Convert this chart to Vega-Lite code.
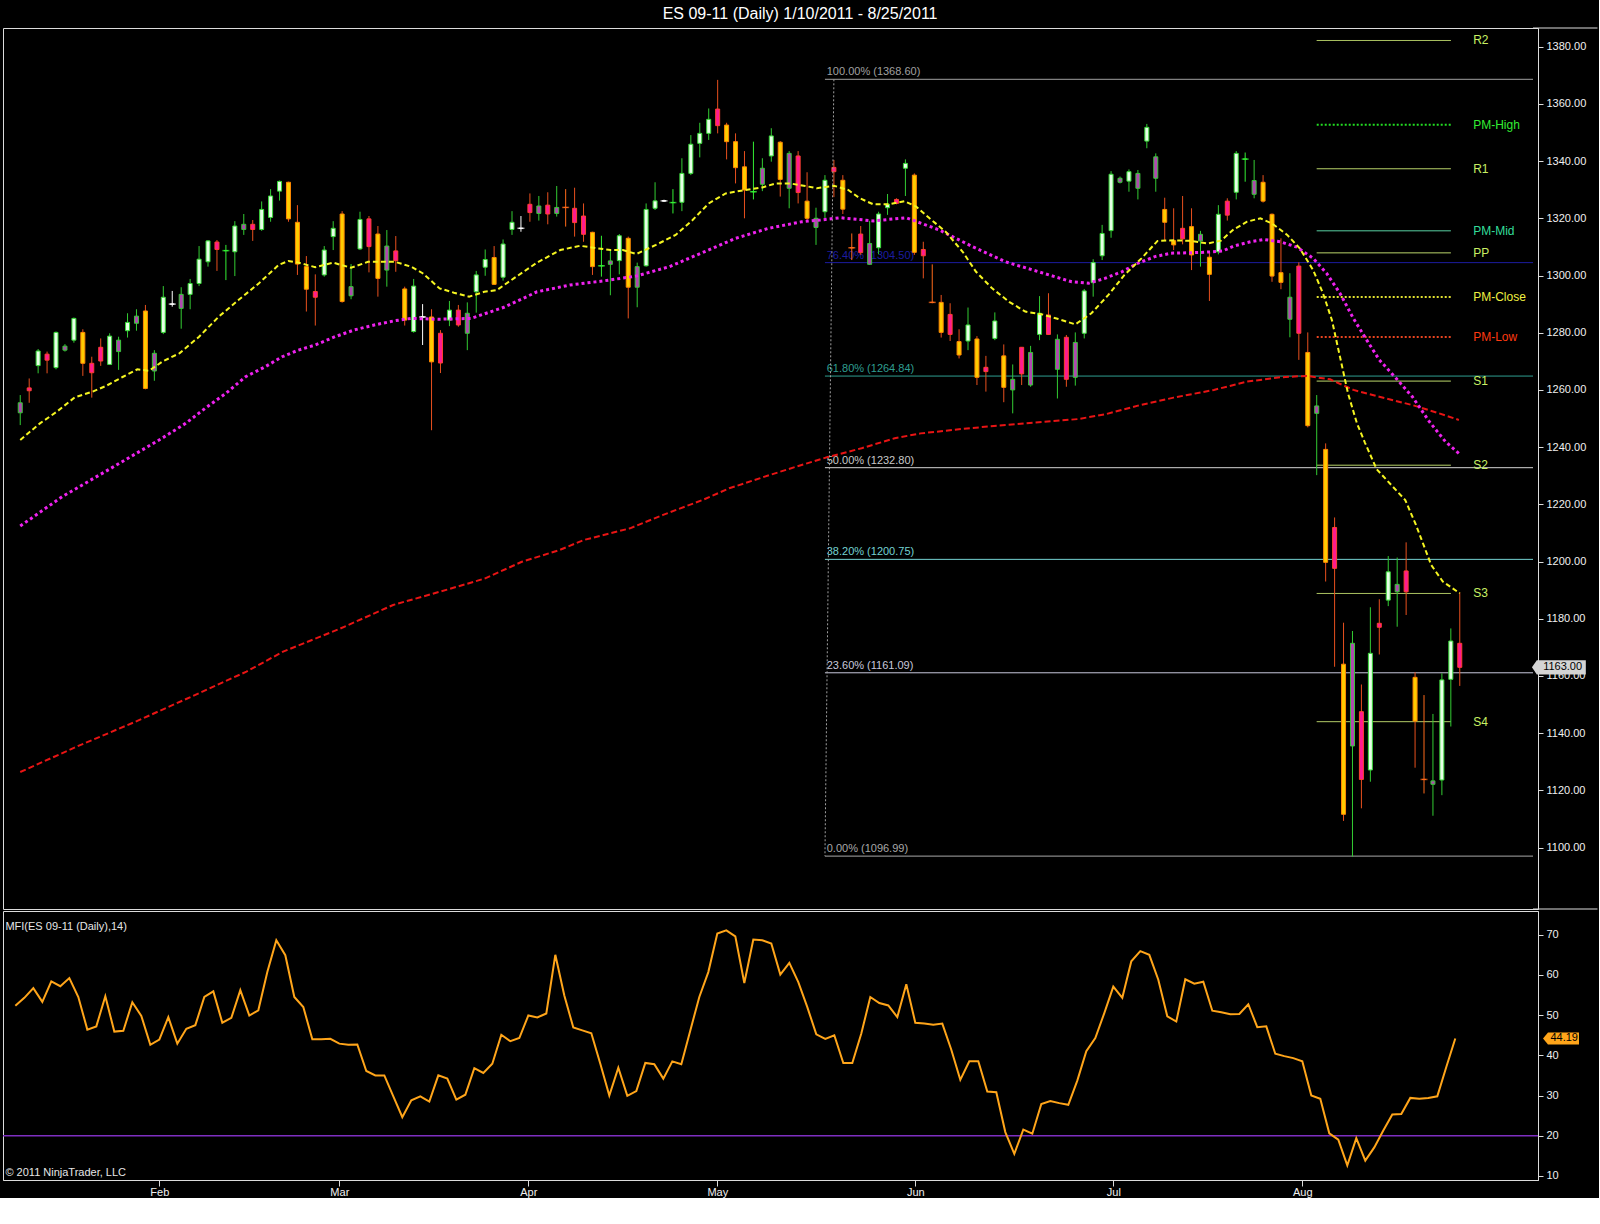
{
  "$schema": "https://vega.github.io/schema/vega-lite/v6.json",
  "background": "#000000",
  "padding": {"left": 1, "top": 6, "right": 0, "bottom": 0},
  "title": {"text": "ES 09-11 (Daily)  1/10/2011 - 8/25/2011", "color": "#ffffff", "fontSize": 16, "fontWeight": "normal", "font": "Liberation Sans", "offset": 5, "anchor": "middle"},
  "datasets": {
    "bars": [
      {"i":0,"o":1252.0,"h":1258.2,"l":1247.7,"c":1255.5,"k":"v"},
      {"i":1,"o":1260.7,"h":1264.0,"l":1255.5,"c":1259.7,"k":"p"},
      {"i":2,"o":1268.5,"h":1274.3,"l":1265.8,"c":1273.6,"k":"u"},
      {"i":3,"o":1272.5,"h":1273.4,"l":1265.8,"c":1270.4,"k":"p"},
      {"i":4,"o":1267.8,"h":1280.4,"l":1267.2,"c":1280.1,"k":"u"},
      {"i":5,"o":1273.9,"h":1276.0,"l":1273.4,"c":1275.3,"k":"v"},
      {"i":6,"o":1277.4,"h":1285.3,"l":1276.5,"c":1285.0,"k":"u"},
      {"i":7,"o":1280.1,"h":1281.2,"l":1264.9,"c":1269.3,"k":"d"},
      {"i":8,"o":1269.3,"h":1271.6,"l":1257.3,"c":1266.0,"k":"p"},
      {"i":9,"o":1274.9,"h":1278.0,"l":1268.4,"c":1270.1,"k":"p"},
      {"i":10,"o":1268.9,"h":1279.8,"l":1268.7,"c":1278.8,"k":"u"},
      {"i":11,"o":1273.4,"h":1278.6,"l":1267.0,"c":1277.4,"k":"v"},
      {"i":12,"o":1280.7,"h":1286.8,"l":1278.3,"c":1283.6,"k":"u"},
      {"i":13,"o":1283.3,"h":1288.2,"l":1280.7,"c":1285.8,"k":"v"},
      {"i":14,"o":1287.6,"h":1289.7,"l":1260.2,"c":1260.5,"k":"d"},
      {"i":15,"o":1266.6,"h":1273.9,"l":1263.2,"c":1272.8,"k":"v"},
      {"i":16,"o":1280.1,"h":1296.3,"l":1279.5,"c":1292.4,"k":"u"},
      {"i":17,"o":1290.0,"h":1294.6,"l":1289.1,"c":1290.0,"k":"w"},
      {"i":18,"o":1288.5,"h":1295.9,"l":1281.4,"c":1293.4,"k":"v"},
      {"i":19,"o":1293.4,"h":1298.8,"l":1288.2,"c":1297.2,"k":"u"},
      {"i":20,"o":1297.2,"h":1310.3,"l":1296.3,"c":1305.7,"k":"u"},
      {"i":21,"o":1304.8,"h":1312.4,"l":1303.1,"c":1312.1,"k":"u"},
      {"i":22,"o":1311.7,"h":1312.4,"l":1301.6,"c":1309.1,"k":"p"},
      {"i":23,"o":1308.7,"h":1310.7,"l":1298.4,"c":1308.7,"k":"g"},
      {"i":24,"o":1308.3,"h":1319.0,"l":1299.8,"c":1317.3,"k":"u"},
      {"i":25,"o":1316.1,"h":1321.5,"l":1314.2,"c":1317.9,"k":"v"},
      {"i":26,"o":1317.9,"h":1319.4,"l":1312.1,"c":1316.1,"k":"p"},
      {"i":27,"o":1316.1,"h":1325.9,"l":1315.6,"c":1323.1,"k":"u"},
      {"i":28,"o":1320.3,"h":1330.2,"l":1318.8,"c":1327.8,"k":"u"},
      {"i":29,"o":1329.5,"h":1333.2,"l":1326.2,"c":1332.9,"k":"u"},
      {"i":30,"o":1332.6,"h":1332.8,"l":1318.8,"c":1319.8,"k":"d"},
      {"i":31,"o":1318.6,"h":1324.6,"l":1300.2,"c":1304.0,"k":"d"},
      {"i":32,"o":1303.1,"h":1306.8,"l":1287.4,"c":1295.2,"k":"d"},
      {"i":33,"o":1294.4,"h":1300.4,"l":1282.5,"c":1292.4,"k":"p"},
      {"i":34,"o":1300.2,"h":1310.3,"l":1299.6,"c":1308.9,"k":"u"},
      {"i":35,"o":1313.6,"h":1319.0,"l":1308.9,"c":1316.5,"k":"u"},
      {"i":36,"o":1321.5,"h":1322.5,"l":1290.5,"c":1290.9,"k":"d"},
      {"i":37,"o":1292.9,"h":1304.0,"l":1291.7,"c":1296.1,"k":"v"},
      {"i":38,"o":1309.3,"h":1322.3,"l":1308.9,"c":1319.6,"k":"u"},
      {"i":39,"o":1319.8,"h":1320.8,"l":1301.1,"c":1310.1,"k":"p"},
      {"i":40,"o":1314.5,"h":1317.3,"l":1292.6,"c":1299.0,"k":"d"},
      {"i":41,"o":1301.9,"h":1315.9,"l":1296.1,"c":1310.3,"k":"v"},
      {"i":42,"o":1308.6,"h":1313.8,"l":1301.3,"c":1305.2,"k":"p"},
      {"i":43,"o":1295.3,"h":1296.1,"l":1282.5,"c":1284.4,"k":"d"},
      {"i":44,"o":1280.4,"h":1298.8,"l":1280.0,"c":1296.3,"k":"u"},
      {"i":45,"o":1285.5,"h":1290.0,"l":1275.7,"c":1285.5,"k":"w"},
      {"i":46,"o":1285.5,"h":1288.2,"l":1245.9,"c":1269.8,"k":"d"},
      {"i":47,"o":1279.8,"h":1280.9,"l":1265.9,"c":1269.4,"k":"p"},
      {"i":48,"o":1284.4,"h":1291.1,"l":1282.3,"c":1287.9,"k":"u"},
      {"i":49,"o":1287.9,"h":1289.7,"l":1282.1,"c":1282.7,"k":"p"},
      {"i":50,"o":1279.8,"h":1290.6,"l":1273.9,"c":1286.8,"k":"v"},
      {"i":51,"o":1294.3,"h":1301.6,"l":1287.0,"c":1300.2,"k":"u"},
      {"i":52,"o":1302.9,"h":1309.1,"l":1299.9,"c":1305.6,"k":"u"},
      {"i":53,"o":1306.3,"h":1310.3,"l":1296.7,"c":1296.9,"k":"d"},
      {"i":54,"o":1299.4,"h":1312.6,"l":1298.2,"c":1311.0,"k":"u"},
      {"i":55,"o":1316.1,"h":1322.5,"l":1314.2,"c":1318.6,"k":"u"},
      {"i":56,"o":1316.5,"h":1320.8,"l":1315.3,"c":1316.5,"k":"w"},
      {"i":57,"o":1324.9,"h":1328.7,"l":1318.8,"c":1322.0,"k":"p"},
      {"i":58,"o":1321.7,"h":1327.8,"l":1319.2,"c":1324.3,"k":"v"},
      {"i":59,"o":1324.6,"h":1329.1,"l":1317.9,"c":1321.5,"k":"p"},
      {"i":60,"o":1321.7,"h":1331.3,"l":1320.6,"c":1323.8,"k":"v"},
      {"i":61,"o":1323.8,"h":1330.2,"l":1317.1,"c":1323.8,"k":"o"},
      {"i":62,"o":1323.5,"h":1330.7,"l":1313.6,"c":1318.5,"k":"p"},
      {"i":63,"o":1320.8,"h":1325.2,"l":1311.8,"c":1314.4,"k":"p"},
      {"i":64,"o":1315.1,"h":1315.3,"l":1300.2,"c":1303.1,"k":"d"},
      {"i":65,"o":1303.4,"h":1313.9,"l":1299.6,"c":1303.4,"k":"g"},
      {"i":66,"o":1303.9,"h":1308.9,"l":1293.1,"c":1305.1,"k":"v"},
      {"i":67,"o":1305.2,"h":1314.5,"l":1300.4,"c":1313.9,"k":"u"},
      {"i":68,"o":1313.0,"h":1313.6,"l":1285.0,"c":1295.9,"k":"d"},
      {"i":69,"o":1295.9,"h":1304.5,"l":1288.9,"c":1303.1,"k":"v"},
      {"i":70,"o":1303.4,"h":1325.2,"l":1303.1,"c":1323.1,"k":"u"},
      {"i":71,"o":1323.5,"h":1332.6,"l":1322.9,"c":1326.1,"k":"u"},
      {"i":72,"o":1326.1,"h":1326.5,"l":1325.7,"c":1326.1,"k":"w"},
      {"i":73,"o":1325.5,"h":1330.2,"l":1321.7,"c":1325.5,"k":"g"},
      {"i":74,"o":1325.6,"h":1341.0,"l":1322.5,"c":1335.7,"k":"u"},
      {"i":75,"o":1335.7,"h":1349.1,"l":1335.1,"c":1345.9,"k":"u"},
      {"i":76,"o":1346.2,"h":1353.4,"l":1341.3,"c":1349.7,"k":"u"},
      {"i":77,"o":1349.7,"h":1358.4,"l":1347.4,"c":1354.6,"k":"u"},
      {"i":78,"o":1358.2,"h":1368.4,"l":1349.7,"c":1352.4,"k":"p"},
      {"i":79,"o":1352.6,"h":1353.4,"l":1340.6,"c":1346.8,"k":"d"},
      {"i":80,"o":1346.8,"h":1349.7,"l":1332.2,"c":1337.7,"k":"d"},
      {"i":81,"o":1338.0,"h":1343.5,"l":1320.0,"c":1329.9,"k":"d"},
      {"i":82,"o":1329.3,"h":1346.8,"l":1326.6,"c":1329.3,"k":"g"},
      {"i":83,"o":1331.9,"h":1341.0,"l":1329.5,"c":1337.5,"k":"v"},
      {"i":84,"o":1341.8,"h":1351.5,"l":1339.8,"c":1348.8,"k":"u"},
      {"i":85,"o":1346.6,"h":1347.0,"l":1327.6,"c":1333.6,"k":"d"},
      {"i":86,"o":1330.5,"h":1343.5,"l":1323.5,"c":1342.7,"k":"v"},
      {"i":87,"o":1341.8,"h":1343.5,"l":1325.2,"c":1329.0,"k":"p"},
      {"i":88,"o":1326.0,"h":1336.1,"l":1319.4,"c":1320.0,"k":"d"},
      {"i":89,"o":1316.8,"h":1323.7,"l":1310.7,"c":1320.0,"k":"v"},
      {"i":90,"o":1322.3,"h":1335.1,"l":1320.0,"c":1333.3,"k":"u"},
      {"i":91,"o":1337.8,"h":1340.4,"l":1327.4,"c":1336.3,"k":"p"},
      {"i":92,"o":1333.3,"h":1335.1,"l":1321.5,"c":1323.2,"k":"d"},
      {"i":93,"o":1309.7,"h":1314.7,"l":1305.4,"c":1309.7,"k":"o"},
      {"i":94,"o":1314.5,"h":1317.3,"l":1307.2,"c":1308.0,"k":"p"},
      {"i":95,"o":1303.9,"h":1319.1,"l":1303.7,"c":1311.2,"k":"v"},
      {"i":96,"o":1309.7,"h":1322.3,"l":1307.4,"c":1321.5,"k":"u"},
      {"i":97,"o":1323.7,"h":1328.5,"l":1321.2,"c":1324.9,"k":"u"},
      {"i":98,"o":1326.6,"h":1327.0,"l":1324.9,"c":1325.2,"k":"p"},
      {"i":99,"o":1337.5,"h":1340.6,"l":1327.8,"c":1339.2,"k":"u"},
      {"i":100,"o":1335.1,"h":1335.7,"l":1307.2,"c":1308.1,"k":"d"},
      {"i":101,"o":1309.1,"h":1311.8,"l":1299.0,"c":1306.9,"k":"p"},
      {"i":102,"o":1290.6,"h":1303.9,"l":1290.3,"c":1290.6,"k":"o"},
      {"i":103,"o":1290.6,"h":1293.2,"l":1278.3,"c":1280.1,"k":"d"},
      {"i":104,"o":1286.4,"h":1290.3,"l":1277.1,"c":1279.4,"k":"p"},
      {"i":105,"o":1276.9,"h":1281.2,"l":1271.0,"c":1272.2,"k":"d"},
      {"i":106,"o":1277.1,"h":1288.8,"l":1273.9,"c":1282.7,"k":"u"},
      {"i":107,"o":1277.8,"h":1278.8,"l":1261.7,"c":1264.4,"k":"d"},
      {"i":108,"o":1267.9,"h":1271.9,"l":1259.4,"c":1266.4,"k":"p"},
      {"i":109,"o":1278.0,"h":1287.1,"l":1277.4,"c":1284.1,"k":"u"},
      {"i":110,"o":1271.9,"h":1275.9,"l":1255.7,"c":1260.9,"k":"d"},
      {"i":111,"o":1260.0,"h":1268.9,"l":1251.8,"c":1263.7,"k":"v"},
      {"i":112,"o":1274.9,"h":1274.9,"l":1261.7,"c":1265.6,"k":"p"},
      {"i":113,"o":1261.7,"h":1275.4,"l":1261.1,"c":1273.1,"k":"v"},
      {"i":114,"o":1279.4,"h":1292.8,"l":1277.4,"c":1286.8,"k":"u"},
      {"i":115,"o":1286.2,"h":1293.8,"l":1279.2,"c":1279.4,"k":"p"},
      {"i":116,"o":1267.2,"h":1279.4,"l":1257.0,"c":1277.7,"k":"v"},
      {"i":117,"o":1278.4,"h":1279.2,"l":1261.1,"c":1263.7,"k":"p"},
      {"i":118,"o":1264.4,"h":1280.1,"l":1261.5,"c":1276.6,"k":"v"},
      {"i":119,"o":1279.8,"h":1295.3,"l":1278.0,"c":1294.6,"k":"u"},
      {"i":120,"o":1297.5,"h":1305.7,"l":1292.6,"c":1304.5,"k":"u"},
      {"i":121,"o":1306.9,"h":1317.7,"l":1305.4,"c":1314.7,"k":"u"},
      {"i":122,"o":1315.7,"h":1336.5,"l":1313.2,"c":1335.4,"k":"u"},
      {"i":123,"o":1332.6,"h":1334.6,"l":1332.2,"c":1334.0,"k":"v"},
      {"i":124,"o":1333.0,"h":1337.1,"l":1329.3,"c":1336.3,"k":"u"},
      {"i":125,"o":1330.5,"h":1336.9,"l":1326.6,"c":1335.7,"k":"v"},
      {"i":126,"o":1347.0,"h":1353.0,"l":1344.5,"c":1351.8,"k":"u"},
      {"i":127,"o":1334.0,"h":1342.7,"l":1329.3,"c":1341.5,"k":"v"},
      {"i":128,"o":1323.1,"h":1327.2,"l":1312.4,"c":1318.6,"k":"d"},
      {"i":129,"o":1312.2,"h":1323.5,"l":1308.9,"c":1310.7,"k":"d"},
      {"i":130,"o":1316.5,"h":1327.8,"l":1310.9,"c":1312.8,"k":"p"},
      {"i":131,"o":1317.1,"h":1323.5,"l":1301.9,"c":1307.2,"k":"d"},
      {"i":132,"o":1312.1,"h":1315.6,"l":1303.1,"c":1314.4,"k":"v"},
      {"i":133,"o":1306.4,"h":1308.0,"l":1291.1,"c":1300.4,"k":"d"},
      {"i":134,"o":1308.3,"h":1324.6,"l":1307.4,"c":1321.4,"k":"u"},
      {"i":135,"o":1326.0,"h":1327.0,"l":1319.2,"c":1321.1,"k":"p"},
      {"i":136,"o":1329.1,"h":1343.5,"l":1326.6,"c":1342.7,"k":"u"},
      {"i":137,"o":1340.7,"h":1343.0,"l":1332.8,"c":1340.7,"k":"g"},
      {"i":138,"o":1328.4,"h":1340.4,"l":1327.0,"c":1333.2,"k":"v"},
      {"i":139,"o":1332.6,"h":1335.1,"l":1325.5,"c":1326.0,"k":"d"},
      {"i":140,"o":1321.4,"h":1321.7,"l":1297.8,"c":1299.8,"k":"d"},
      {"i":141,"o":1301.0,"h":1313.0,"l":1295.2,"c":1297.6,"k":"d"},
      {"i":142,"o":1284.7,"h":1300.8,"l":1278.4,"c":1292.4,"k":"v"},
      {"i":143,"o":1303.3,"h":1304.6,"l":1270.5,"c":1279.8,"k":"p"},
      {"i":144,"o":1273.1,"h":1280.1,"l":1246.9,"c":1247.5,"k":"d"},
      {"i":145,"o":1251.8,"h":1258.2,"l":1230.2,"c":1254.4,"k":"v"},
      {"i":146,"o":1239.2,"h":1241.3,"l":1193.0,"c":1199.7,"k":"d"},
      {"i":147,"o":1211.9,"h":1215.4,"l":1163.2,"c":1197.6,"k":"p"},
      {"i":148,"o":1164.1,"h":1178.6,"l":1109.3,"c":1111.6,"k":"d"},
      {"i":149,"o":1135.5,"h":1175.7,"l":1096.8,"c":1171.4,"k":"v"},
      {"i":150,"o":1147.5,"h":1157.0,"l":1113.7,"c":1123.8,"k":"p"},
      {"i":151,"o":1127.1,"h":1184.0,"l":1123.0,"c":1167.9,"k":"u"},
      {"i":152,"o":1178.4,"h":1186.8,"l":1167.5,"c":1177.0,"k":"p"},
      {"i":153,"o":1186.5,"h":1201.9,"l":1184.4,"c":1196.4,"k":"u"},
      {"i":154,"o":1189.4,"h":1201.4,"l":1177.2,"c":1192.0,"k":"v"},
      {"i":155,"o":1196.7,"h":1206.7,"l":1181.3,"c":1189.4,"k":"p"},
      {"i":156,"o":1159.5,"h":1161.3,"l":1127.9,"c":1144.2,"k":"d"},
      {"i":157,"o":1123.8,"h":1153.3,"l":1118.9,"c":1123.8,"k":"o"},
      {"i":158,"o":1122.1,"h":1146.7,"l":1111.1,"c":1123.3,"k":"v"},
      {"i":159,"o":1123.6,"h":1160.9,"l":1118.3,"c":1158.6,"k":"u"},
      {"i":160,"o":1158.8,"h":1176.6,"l":1142.3,"c":1172.2,"k":"u"},
      {"i":161,"o":1171.4,"h":1189.2,"l":1156.5,"c":1163.0,"k":"p"}
    ],
    "ema": [
      {"i":0,"v":1242.5},{"i":2.2,"v":1248.3},{"i":4.1,"v":1252.4},{"i":6.1,"v":1257.4},{"i":8.1,"v":1259.4},
      {"i":9.6,"v":1261.4},{"i":11.5,"v":1264.6},{"i":13.1,"v":1267.2},{"i":14.4,"v":1266.7},{"i":15.9,"v":1269.9},
      {"i":17.8,"v":1272.8},{"i":20,"v":1278.6},{"i":22.2,"v":1285.6},{"i":24.4,"v":1291.4},{"i":26.7,"v":1297.3},
      {"i":28.9,"v":1303.7},{"i":30,"v":1305.1},{"i":31.1,"v":1304.5},{"i":33,"v":1302.9},{"i":35,"v":1304.5},
      {"i":37,"v":1302.7},{"i":38.9,"v":1304.8},{"i":41.9,"v":1304.8},{"i":43.7,"v":1303.1},{"i":45,"v":1300.8},
      {"i":46.9,"v":1295.5},{"i":48.5,"v":1294.0},{"i":50.2,"v":1292.6},{"i":51.9,"v":1294.3},{"i":53.3,"v":1294.9},
      {"i":55.2,"v":1299.0},{"i":57.8,"v":1304.5},{"i":60.4,"v":1308.9},{"i":62.6,"v":1310.4},{"i":63.9,"v":1309.8},
      {"i":66,"v":1308.9},{"i":67.4,"v":1308.9},{"i":68.9,"v":1307.5},{"i":71.1,"v":1310.7},{"i":73.3,"v":1314.2},
      {"i":75.2,"v":1319.4},{"i":77,"v":1325.2},{"i":78.9,"v":1328.7},{"i":81.1,"v":1329.9},{"i":83,"v":1330.8},
      {"i":84.5,"v":1332.2},{"i":86.1,"v":1332.2},{"i":87.8,"v":1331.3},{"i":89.1,"v":1330.5},{"i":91,"v":1331.4},
      {"i":92.6,"v":1329.9},{"i":93.9,"v":1327.0},{"i":95.4,"v":1324.9},{"i":97.2,"v":1324.9},{"i":98.9,"v":1326.0},
      {"i":100.2,"v":1324.1},{"i":101.7,"v":1320.0},{"i":103.5,"v":1315.3},{"i":105.4,"v":1308.3},{"i":106.9,"v":1301.3},
      {"i":108.7,"v":1295.5},{"i":110.6,"v":1290.8},{"i":112.4,"v":1287.4},{"i":114.3,"v":1286.4},{"i":116.1,"v":1284.8},
      {"i":118,"v":1282.9},{"i":119.8,"v":1286.8},{"i":121.7,"v":1293.2},{"i":123.5,"v":1300.2},{"i":125.4,"v":1306.0},
      {"i":127.2,"v":1312.1},{"i":129.1,"v":1312.3},{"i":131,"v":1312.1},{"i":132.8,"v":1311.2},{"i":134.3,"v":1312.2},
      {"i":135.7,"v":1316.1},{"i":137.2,"v":1318.8},{"i":138.7,"v":1320.0},{"i":140,"v":1318.2},{"i":141.7,"v":1314.2},
      {"i":143.1,"v":1309.5},{"i":144.6,"v":1301.9},{"i":145.7,"v":1293.8},{"i":146.7,"v":1284.4},{"i":147.6,"v":1271.6},
      {"i":148.5,"v":1258.8},{"i":149.5,"v":1248.3},{"i":150.4,"v":1241.5},{"i":151.7,"v":1232.3},{"i":153.5,"v":1226.2},
      {"i":154.9,"v":1221.5},{"i":156.1,"v":1212.8},{"i":157.8,"v":1198.8},{"i":159.1,"v":1193.0},{"i":161,"v":1188.9}
    ],
    "sma50": [
      {"i":0,"v":1212.4},{"i":4.7,"v":1222.7},{"i":9.6,"v":1231.6},{"i":15.7,"v":1242.8},{"i":18.5,"v":1248.3},
      {"i":20.7,"v":1253.6},{"i":23,"v":1258.8},{"i":25.2,"v":1264.6},{"i":27.4,"v":1268.1},{"i":29.3,"v":1271.6},
      {"i":31.1,"v":1273.9},{"i":33,"v":1275.7},{"i":35.2,"v":1278.6},{"i":37.4,"v":1281.0},{"i":39.6,"v":1282.7},
      {"i":41.9,"v":1284.2},{"i":43.7,"v":1285.0},{"i":46.7,"v":1284.7},{"i":50.4,"v":1285.0},{"i":54.1,"v":1288.9},
      {"i":57.8,"v":1294.3},{"i":61.5,"v":1296.7},{"i":65.2,"v":1298.1},{"i":68.9,"v":1299.8},{"i":72.6,"v":1303.1},
      {"i":76.3,"v":1308.0},{"i":80,"v":1313.0},{"i":83.7,"v":1316.5},{"i":87.4,"v":1318.8},{"i":89.5,"v":1319.4},
      {"i":91.7,"v":1320.2},{"i":95.4,"v":1319.1},{"i":99.1,"v":1320.2},{"i":102.8,"v":1315.9},{"i":106.5,"v":1310.1},
      {"i":110.2,"v":1304.8},{"i":113.9,"v":1301.3},{"i":117.6,"v":1297.8},{"i":119.5,"v":1297.3},{"i":121.3,"v":1299.0},
      {"i":123.2,"v":1301.3},{"i":125,"v":1304.3},{"i":126.9,"v":1306.6},{"i":128.7,"v":1307.8},{"i":132.4,"v":1308.1},
      {"i":134.5,"v":1308.6},{"i":135.7,"v":1310.3},{"i":137.6,"v":1311.8},{"i":139.1,"v":1312.6},{"i":140.9,"v":1311.8},
      {"i":142.8,"v":1309.9},{"i":144.6,"v":1306.0},{"i":146.1,"v":1300.8},{"i":147.6,"v":1293.8},{"i":149.1,"v":1285.0},
      {"i":150.6,"v":1277.4},{"i":152,"v":1270.5},{"i":153.9,"v":1264.0},{"i":155.7,"v":1257.6},{"i":157.6,"v":1248.9},
      {"i":159.4,"v":1241.9},{"i":160.9,"v":1237.8}
    ],
    "sma200": [
      {"i":0,"v":1126.4},{"i":6.7,"v":1135.8},{"i":12.9,"v":1144.0},{"i":19.1,"v":1152.7},{"i":25.3,"v":1161.5},
      {"i":29.4,"v":1168.5},{"i":35.6,"v":1176.3},{"i":41.7,"v":1184.8},{"i":47.9,"v":1190.3},{"i":52,"v":1194.1},
      {"i":56.1,"v":1199.9},{"i":60.3,"v":1204.0},{"i":63,"v":1207.5},{"i":68.2,"v":1211.6},{"i":71.9,"v":1216.3},
      {"i":76.3,"v":1221.5},{"i":79.3,"v":1225.6},{"i":83,"v":1229.4},{"i":86.7,"v":1233.1},{"i":90.4,"v":1236.6},
      {"i":94.1,"v":1239.6},{"i":97.8,"v":1243.1},{"i":100.7,"v":1244.8},{"i":105.2,"v":1246.3},{"i":108.9,"v":1247.4},
      {"i":113.3,"v":1248.5},{"i":118.3,"v":1249.8},{"i":121.4,"v":1251.5},{"i":125,"v":1254.5},{"i":129,"v":1257.3},
      {"i":133.5,"v":1260.0},{"i":137.2,"v":1262.9},{"i":140.9,"v":1264.4},{"i":143.9,"v":1264.9},{"i":146.5,"v":1263.7},
      {"i":149.1,"v":1260.0},{"i":152,"v":1257.6},{"i":155.7,"v":1254.7},{"i":158.5,"v":1252.0},{"i":160.9,"v":1249.5}
    ],
    "mfi": [
      {"i":0,"v":52.3},{"i":1,"v":54.3},{"i":2,"v":56.7},{"i":3,"v":53.3},{"i":4,"v":58.4},{"i":5,"v":57.2},{"i":6,"v":59.2},{"i":7,"v":54.5},{"i":8,"v":46.4},{"i":9,"v":47.2},
      {"i":10,"v":54.7},{"i":11,"v":45.9},{"i":12,"v":46.1},{"i":13,"v":53.2},{"i":14,"v":49.8},{"i":15,"v":42.6},{"i":16,"v":43.9},{"i":17,"v":49.5},{"i":18,"v":42.9},{"i":19,"v":46.6},
      {"i":20,"v":47.5},{"i":21,"v":54.5},{"i":22,"v":55.9},{"i":23,"v":48.1},{"i":24,"v":49.3},{"i":25,"v":56.2},{"i":26,"v":49.9},{"i":27,"v":51.2},{"i":28,"v":60.7},{"i":29,"v":68.6},
      {"i":30,"v":64.9},{"i":31,"v":54.5},{"i":32,"v":52.0},{"i":33,"v":44.0},{"i":34,"v":44.0},{"i":35,"v":44.1},{"i":36,"v":42.9},{"i":37,"v":42.6},{"i":38,"v":42.7},{"i":39,"v":36.1},
      {"i":40,"v":35.0},{"i":41,"v":35.0},{"i":42,"v":29.8},{"i":43,"v":24.6},{"i":44,"v":28.8},{"i":45,"v":29.8},{"i":46,"v":28.5},{"i":47,"v":35.0},{"i":48,"v":34.2},{"i":49,"v":29.0},
      {"i":50,"v":30.2},{"i":51,"v":36.8},{"i":52,"v":35.6},{"i":53,"v":37.9},{"i":54,"v":45.1},{"i":55,"v":43.5},{"i":56,"v":44.3},{"i":57,"v":49.9},{"i":58,"v":49.4},{"i":59,"v":50.4},
      {"i":60,"v":65.0},{"i":61,"v":54.9},{"i":62,"v":46.9},{"i":63,"v":46.2},{"i":64,"v":45.5},{"i":65,"v":37.9},{"i":66,"v":30.0},{"i":67,"v":36.9},{"i":68,"v":29.9},{"i":69,"v":31.1},
      {"i":70,"v":38.1},{"i":71,"v":37.8},{"i":72,"v":34.2},{"i":73,"v":38.5},{"i":74,"v":37.8},{"i":75,"v":46.2},{"i":76,"v":54.5},{"i":77,"v":60.7},{"i":78,"v":70.3},{"i":79,"v":71.1},
      {"i":80,"v":69.6},{"i":81,"v":58.0},{"i":82,"v":68.8},{"i":83,"v":68.6},{"i":84,"v":67.8},{"i":85,"v":60.1},{"i":86,"v":63.0},{"i":87,"v":58.2},{"i":88,"v":52.0},{"i":89,"v":45.2},
      {"i":90,"v":44.1},{"i":91,"v":45.0},{"i":92,"v":38.1},{"i":93,"v":38.1},{"i":94,"v":45.4},{"i":95,"v":54.5},{"i":96,"v":53.0},{"i":97,"v":52.4},{"i":98,"v":49.5},{"i":99,"v":57.7},
      {"i":100,"v":48.1},{"i":101,"v":47.9},{"i":102,"v":47.6},{"i":103,"v":47.9},{"i":104,"v":41.4},{"i":105,"v":33.9},{"i":106,"v":38.5},{"i":107,"v":38.5},{"i":108,"v":31.0},{"i":109,"v":30.8},
      {"i":110,"v":20.9},{"i":111,"v":15.5},{"i":112,"v":21.5},{"i":113,"v":20.5},{"i":114,"v":27.9},{"i":115,"v":28.6},{"i":116,"v":28.1},{"i":117,"v":27.7},{"i":118,"v":33.7},{"i":119,"v":41.0},
      {"i":120,"v":44.3},{"i":121,"v":50.5},{"i":122,"v":57.1},{"i":123,"v":54.3},{"i":124,"v":63.4},{"i":125,"v":65.9},{"i":126,"v":65.0},{"i":127,"v":58.8},{"i":128,"v":49.7},{"i":129,"v":48.4},
      {"i":130,"v":58.9},{"i":131,"v":57.8},{"i":132,"v":58.3},{"i":133,"v":51.1},{"i":134,"v":50.7},{"i":135,"v":50.2},{"i":136,"v":50.3},{"i":137,"v":52.7},{"i":138,"v":47.0},{"i":139,"v":47.2},
      {"i":140,"v":40.4},{"i":141,"v":39.8},{"i":142,"v":39.3},{"i":143,"v":38.5},{"i":144,"v":30.0},{"i":145,"v":29.2},{"i":146,"v":20.6},{"i":147,"v":19.0},{"i":148,"v":12.6},{"i":149,"v":19.4},
      {"i":150,"v":13.8},{"i":151,"v":17.1},{"i":152,"v":21.3},{"i":153,"v":25.3},{"i":154,"v":25.4},{"i":155,"v":29.4},{"i":156,"v":29.2},{"i":157,"v":29.4},{"i":158,"v":29.8},{"i":159,"v":37.1},
      {"i":160,"v":44.19}
    ],
    "fib": [
      {"lvl":"100.0","p":1368.60,"t":"100.00% (1368.60)"},
      {"lvl":"76.4","p":1304.50,"t":"76.40% (1304.50)"},
      {"lvl":"61.8","p":1264.84,"t":"61.80% (1264.84)"},
      {"lvl":"50.0","p":1232.80,"t":"50.00% (1232.80)"},
      {"lvl":"38.2","p":1200.75,"t":"38.20% (1200.75)"},
      {"lvl":"23.6","p":1161.09,"t":"23.60% (1161.09)"},
      {"lvl":"0.0","p":1096.99,"t":"0.00% (1096.99)"}
    ],
    "fibline": [{"a":91,"pa":1368.60,"b":90,"pb":1096.99}],
    "pivots": [
      {"n":"R2","p":1382.17,"g":"lvl"},
      {"n":"PM-High","p":1352.75,"g":"ext"},
      {"n":"R1","p":1337.33,"g":"lvl"},
      {"n":"PM-Mid","p":1315.63,"g":"lvl"},
      {"n":"PP","p":1307.92,"g":"lvl"},
      {"n":"PM-Close","p":1292.50,"g":"ext"},
      {"n":"PM-Low","p":1278.50,"g":"ext"},
      {"n":"S1","p":1263.08,"g":"lvl"},
      {"n":"S2","p":1233.67,"g":"lvl"},
      {"n":"S3","p":1188.83,"g":"lvl"},
      {"n":"S4","p":1144.00,"g":"lvl"}
    ],
    "mfilevels": [{"lvl":20}],
    "edges": [{"e":1}],
    "notes": [{"t":"MFI(ES 09-11 (Daily),14)","w":"name"},{"t":"© 2011 NinjaTrader, LLC","w":"copy"}]
  },
  "spacing": 0,
  "vconcat": [
    {
      "width": 1535,
      "height": 881,
      "layer": [
        {
          "data": {"name": "fib"},
          "mark": {"type": "rule", "strokeWidth": 1},
          "encoding": {
            "x": {"datum": 90, "type": "quantitative", "scale": {"domain": [-1.37, 169.19], "nice": false, "zero": false}, "axis": null},
            "x2": {"datum": 169.19},
            "y": {"field": "p", "type": "quantitative", "scale": {"domain": [1078.5, 1386.54], "nice": false, "zero": false},
              "axis": {"orient": "right", "values": [1100,1120,1140,1160,1180,1200,1220,1240,1260,1280,1300,1320,1340,1360,1380], "format": ".2f", "tickSize": 5, "labelPadding": 3, "title": null}},
            "color": {"field": "lvl", "type": "nominal", "legend": null,
              "scale": {"domain": ["100.0","76.4","61.8","50.0","38.2","23.6","0.0"], "range": ["#a0a0a0","#1c1ca0","#2f9e90","#d4d4d4","#74d2d2","#c8c8dc","#a8a8a8"]}}
          }
        },
        {
          "data": {"name": "edges"},
          "mark": {"type": "rule", "color": "#dcdcdc", "strokeWidth": 1},
          "encoding": {
            "x": {"datum": 169.19, "type": "quantitative", "axis": null},
            "x2": {"datum": 176.4},
            "y": {"datum": 1386.54, "type": "quantitative",
              "axis": {"orient": "right", "values": [1100,1120,1140,1160,1180,1200,1220,1240,1260,1280,1300,1320,1340,1360,1380], "format": ".2f", "tickSize": 5, "labelPadding": 3, "title": null}}
          }
        },
        {
          "data": {"name": "edges"},
          "mark": {"type": "rule", "color": "#dcdcdc", "strokeWidth": 1},
          "encoding": {
            "x": {"datum": 169.19, "type": "quantitative", "axis": null},
            "x2": {"datum": 176.4},
            "y": {"datum": 1078.5, "type": "quantitative",
              "axis": {"orient": "right", "values": [1100,1120,1140,1160,1180,1200,1220,1240,1260,1280,1300,1320,1340,1360,1380], "format": ".2f", "tickSize": 5, "labelPadding": 3, "title": null}}
          }
        },
        {
          "data": {"name": "fib"},
          "mark": {"type": "text", "align": "left", "baseline": "middle", "dy": -7, "fontSize": 11, "font": "Liberation Sans"},
          "encoding": {
            "x": {"datum": 90.2, "type": "quantitative", "axis": null},
            "y": {"field": "p", "type": "quantitative",
              "axis": {"orient": "right", "values": [1100,1120,1140,1160,1180,1200,1220,1240,1260,1280,1300,1320,1340,1360,1380], "format": ".2f", "tickSize": 5, "labelPadding": 3, "title": null}},
            "text": {"field": "t"},
            "color": {"field": "lvl", "type": "nominal", "legend": null,
              "scale": {"domain": ["100.0","76.4","61.8","50.0","38.2","23.6","0.0"], "range": ["#a0a0a0","#1c1ca0","#2f9e90","#c8c8c8","#74d2d2","#c8c8dc","#a8a8a8"]}}
          }
        },
        {
          "data": {"name": "pivots"},
          "mark": {"type": "rule"},
          "encoding": {
            "x": {"datum": 145, "type": "quantitative", "axis": null},
            "x2": {"datum": 160},
            "y": {"field": "p", "type": "quantitative",
              "axis": {"orient": "right", "values": [1100,1120,1140,1160,1180,1200,1220,1240,1260,1280,1300,1320,1340,1360,1380], "format": ".2f", "tickSize": 5, "labelPadding": 3, "title": null}},
            "color": {"field": "n", "type": "nominal", "legend": null,
              "scale": {"domain": ["R2","PM-High","R1","PM-Mid","PP","PM-Close","PM-Low","S1","S2","S3","S4"],
                        "range": ["#d4f27a","#22dd22","#d4f27a","#66eebb","#d4f27a","#e0e030","#e84420","#d4f27a","#d4f27a","#d4f27a","#d4f27a"]}},
            "strokeDash": {"field": "g", "type": "nominal", "legend": null, "scale": {"domain": ["lvl","ext"], "range": [[1,0],[2,2]]}},
            "strokeWidth": {"field": "g", "type": "nominal", "legend": null, "scale": {"domain": ["lvl","ext"], "range": [1,2]}}
          }
        },
        {
          "data": {"name": "pivots"},
          "mark": {"type": "text", "align": "left", "baseline": "middle", "fontSize": 12, "font": "Liberation Sans"},
          "encoding": {
            "x": {"datum": 162.5, "type": "quantitative", "axis": null},
            "y": {"field": "p", "type": "quantitative",
              "axis": {"orient": "right", "values": [1100,1120,1140,1160,1180,1200,1220,1240,1260,1280,1300,1320,1340,1360,1380], "format": ".2f", "tickSize": 5, "labelPadding": 3, "title": null}},
            "text": {"field": "n"},
            "color": {"field": "n", "type": "nominal", "legend": null,
              "scale": {"domain": ["R2","PM-High","R1","PM-Mid","PP","PM-Close","PM-Low","S1","S2","S3","S4"],
                        "range": ["#c8f064","#33ee33","#c8f064","#33dd99","#c8f064","#f0f040","#ff3a10","#c8f064","#c8f064","#c8f064","#c8f064"]}}
          }
        },
        {
          "data": {"name": "bars"},
          "mark": {"type": "rule", "strokeWidth": 1},
          "encoding": {
            "x": {"field": "i", "type": "quantitative", "axis": null},
            "y": {"field": "l", "type": "quantitative",
              "axis": {"orient": "right", "values": [1100,1120,1140,1160,1180,1200,1220,1240,1260,1280,1300,1320,1340,1360,1380], "format": ".2f", "tickSize": 5, "labelPadding": 3, "title": null}},
            "y2": {"field": "h"},
            "stroke": {"field": "k", "type": "nominal", "legend": null,
              "scale": {"domain": ["u","v","d","p","w","g","o"], "range": ["#33cc33","#33cc33","#e8501e","#e8501e","#ffffff","#33ee33","#ff6a1a"]}}
          }
        },
        {
          "data": {"name": "bars"},
          "mark": {"type": "bar", "size": 4, "strokeWidth": 1},
          "encoding": {
            "x": {"field": "i", "type": "quantitative", "axis": null},
            "y": {"field": "o", "type": "quantitative",
              "axis": {"orient": "right", "values": [1100,1120,1140,1160,1180,1200,1220,1240,1260,1280,1300,1320,1340,1360,1380], "format": ".2f", "tickSize": 5, "labelPadding": 3, "title": null}},
            "y2": {"field": "c"},
            "fill": {"field": "k", "type": "nominal", "legend": null,
              "scale": {"domain": ["u","v","d","p","w","g","o"], "range": ["#e6ffe6","#b048b0","#ffcc00","#ff1a90","#ffffff","#33ee33","#ff7a1a"]}},
            "stroke": {"field": "k", "type": "nominal", "legend": null,
              "scale": {"domain": ["u","v","d","p","w","g","o"], "range": ["#38d838","#38c838","#ff8800","#ff4030","#ffffff","#33ee33","#ff6a1a"]}}
          }
        },
        {
          "data": {"name": "bars"},
          "transform": [{"filter": "datum.k == 'w' || datum.k == 'g' || datum.k == 'o'"}],
          "mark": {"type": "tick", "orient": "horizontal", "size": 7, "thickness": 1.5},
          "encoding": {
            "x": {"field": "i", "type": "quantitative", "axis": null},
            "y": {"field": "c", "type": "quantitative",
              "axis": {"orient": "right", "values": [1100,1120,1140,1160,1180,1200,1220,1240,1260,1280,1300,1320,1340,1360,1380], "format": ".2f", "tickSize": 5, "labelPadding": 3, "title": null}},
            "color": {"field": "k", "type": "nominal", "legend": null,
              "scale": {"domain": ["w","g","o"], "range": ["#ffffff","#33ee33","#ff6a1a"]}}
          }
        },
        {
          "data": {"name": "sma200"},
          "mark": {"type": "line", "color": "#e81414", "strokeWidth": 2, "strokeDash": [6, 3]},
          "encoding": {"x": {"field": "i", "type": "quantitative", "axis": null},
            "y": {"field": "v", "type": "quantitative",
              "axis": {"orient": "right", "values": [1100,1120,1140,1160,1180,1200,1220,1240,1260,1280,1300,1320,1340,1360,1380], "format": ".2f", "tickSize": 5, "labelPadding": 3, "title": null}}}
        },
        {
          "data": {"name": "sma50"},
          "mark": {"type": "line", "color": "#ee22ee", "strokeWidth": 3, "strokeDash": [3, 3]},
          "encoding": {"x": {"field": "i", "type": "quantitative", "axis": null},
            "y": {"field": "v", "type": "quantitative",
              "axis": {"orient": "right", "values": [1100,1120,1140,1160,1180,1200,1220,1240,1260,1280,1300,1320,1340,1360,1380], "format": ".2f", "tickSize": 5, "labelPadding": 3, "title": null}}}
        },
        {
          "data": {"name": "ema"},
          "mark": {"type": "line", "color": "#f5f520", "strokeWidth": 2, "strokeDash": [5, 3]},
          "encoding": {"x": {"field": "i", "type": "quantitative", "axis": null},
            "y": {"field": "v", "type": "quantitative",
              "axis": {"orient": "right", "values": [1100,1120,1140,1160,1180,1200,1220,1240,1260,1280,1300,1320,1340,1360,1380], "format": ".2f", "tickSize": 5, "labelPadding": 3, "title": null}}}
        },
        {
          "data": {"name": "fibline"},
          "mark": {"type": "rule", "color": "#a0a0a0", "strokeWidth": 1, "strokeDash": [2, 2]},
          "encoding": {
            "x": {"field": "a", "type": "quantitative", "axis": null},
            "x2": {"field": "b"},
            "y": {"field": "pa", "type": "quantitative",
              "axis": {"orient": "right", "values": [1100,1120,1140,1160,1180,1200,1220,1240,1260,1280,1300,1320,1340,1360,1380], "format": ".2f", "tickSize": 5, "labelPadding": 3, "title": null}},
            "y2": {"field": "pb"}
          }
        },
        {
          "data": {"name": "bars"},
          "transform": [{"filter": "datum.i == 161"}],
          "mark": {"type": "point", "filled": true, "shape": "M-1.2,0L-1,-0.29L1,-0.29L1,0.29L-1,0.29Z", "size": 2401, "color": "#d4d4d4", "opacity": 1},
          "encoding": {
            "x": {"datum": 172.36, "type": "quantitative", "axis": null},
            "y": {"field": "c", "type": "quantitative",
              "axis": {"orient": "right", "values": [1100,1120,1140,1160,1180,1200,1220,1240,1260,1280,1300,1320,1340,1360,1380], "format": ".2f", "tickSize": 5, "labelPadding": 3, "title": null}}
          }
        },
        {
          "data": {"name": "bars"},
          "transform": [{"filter": "datum.i == 161"}],
          "mark": {"type": "text", "align": "center", "baseline": "middle", "fontSize": 11, "font": "Liberation Sans", "color": "#000000"},
          "encoding": {
            "x": {"datum": 172.5, "type": "quantitative", "axis": null},
            "y": {"field": "c", "type": "quantitative",
              "axis": {"orient": "right", "values": [1100,1120,1140,1160,1180,1200,1220,1240,1260,1280,1300,1320,1340,1360,1380], "format": ".2f", "tickSize": 5, "labelPadding": 3, "title": null}},
            "text": {"field": "c", "type": "quantitative", "format": ".2f"}
          }
        }
      ],
      "resolve": {"scale": {"color": "independent", "stroke": "independent", "fill": "independent", "strokeDash": "independent", "strokeWidth": "independent"}}
    },
    {
      "width": 1535,
      "height": 269,
      "layer": [
        {
          "data": {"name": "mfilevels"},
          "mark": {"type": "rule", "color": "#7e2fc0", "strokeWidth": 1.5},
          "encoding": {
            "x": {"datum": -1.37, "type": "quantitative", "scale": {"domain": [-1.37, 169.19], "nice": false, "zero": false},
              "axis": {"orient": "bottom", "values": [16,36,57,78,100,122,143], "labelExpr": "['Feb','Mar','Apr','May','Jun','Jul','Aug'][indexof([16,36,57,78,100,122,143], datum.value)]", "tickSize": 6, "labelPadding": 0, "title": null}},
            "x2": {"datum": 169.19},
            "y": {"field": "lvl", "type": "quantitative", "scale": {"domain": [8.98, 75.9], "nice": false, "zero": false},
              "axis": {"orient": "right", "values": [10,20,30,40,50,60,70], "format": "d", "tickSize": 5, "labelPadding": 3, "title": null}}
          }
        },
        {
          "data": {"name": "mfi"},
          "mark": {"type": "line", "color": "#ffa51a", "strokeWidth": 2},
          "encoding": {
            "x": {"field": "i", "type": "quantitative",
              "axis": {"orient": "bottom", "values": [16,36,57,78,100,122,143], "labelExpr": "['Feb','Mar','Apr','May','Jun','Jul','Aug'][indexof([16,36,57,78,100,122,143], datum.value)]", "tickSize": 6, "labelPadding": 0, "title": null}},
            "y": {"field": "v", "type": "quantitative",
              "axis": {"orient": "right", "values": [10,20,30,40,50,60,70], "format": "d", "tickSize": 5, "labelPadding": 3, "title": null}}
          }
        },
        {
          "data": {"name": "notes"},
          "transform": [{"filter": "datum.w == 'name'"}],
          "mark": {"type": "text", "align": "left", "baseline": "middle", "fontSize": 11, "font": "Liberation Sans", "color": "#e6e6e6"},
          "encoding": {
            "x": {"datum": -1.1, "type": "quantitative",
              "axis": {"orient": "bottom", "values": [16,36,57,78,100,122,143], "labelExpr": "['Feb','Mar','Apr','May','Jun','Jul','Aug'][indexof([16,36,57,78,100,122,143], datum.value)]", "tickSize": 6, "labelPadding": 0, "title": null}},
            "y": {"datum": 72, "type": "quantitative",
              "axis": {"orient": "right", "values": [10,20,30,40,50,60,70], "format": "d", "tickSize": 5, "labelPadding": 3, "title": null}},
            "text": {"field": "t"}
          }
        },
        {
          "data": {"name": "notes"},
          "transform": [{"filter": "datum.w == 'copy'"}],
          "mark": {"type": "text", "align": "left", "baseline": "middle", "fontSize": 11, "font": "Liberation Sans", "color": "#e6e6e6"},
          "encoding": {
            "x": {"datum": -1.1, "type": "quantitative",
              "axis": {"orient": "bottom", "values": [16,36,57,78,100,122,143], "labelExpr": "['Feb','Mar','Apr','May','Jun','Jul','Aug'][indexof([16,36,57,78,100,122,143], datum.value)]", "tickSize": 6, "labelPadding": 0, "title": null}},
            "y": {"datum": 10.8, "type": "quantitative",
              "axis": {"orient": "right", "values": [10,20,30,40,50,60,70], "format": "d", "tickSize": 5, "labelPadding": 3, "title": null}},
            "text": {"field": "t"}
          }
        },
        {
          "data": {"name": "mfi"},
          "transform": [{"filter": "datum.i == 160"}],
          "mark": {"type": "point", "filled": true, "shape": "M-1.32,0L-1,-0.39L1,-0.39L1,0.39L-1,0.39Z", "size": 961, "color": "#ffa51a", "opacity": 1},
          "encoding": {
            "x": {"datum": 172.02, "type": "quantitative",
              "axis": {"orient": "bottom", "values": [16,36,57,78,100,122,143], "labelExpr": "['Feb','Mar','Apr','May','Jun','Jul','Aug'][indexof([16,36,57,78,100,122,143], datum.value)]", "tickSize": 6, "labelPadding": 0, "title": null}},
            "y": {"field": "v", "type": "quantitative",
              "axis": {"orient": "right", "values": [10,20,30,40,50,60,70], "format": "d", "tickSize": 5, "labelPadding": 3, "title": null}}
          }
        },
        {
          "data": {"name": "mfi"},
          "transform": [{"filter": "datum.i == 160"}],
          "mark": {"type": "text", "align": "center", "baseline": "middle", "fontSize": 11, "font": "Liberation Sans", "color": "#000000"},
          "encoding": {
            "x": {"datum": 172.1, "type": "quantitative",
              "axis": {"orient": "bottom", "values": [16,36,57,78,100,122,143], "labelExpr": "['Feb','Mar','Apr','May','Jun','Jul','Aug'][indexof([16,36,57,78,100,122,143], datum.value)]", "tickSize": 6, "labelPadding": 0, "title": null}},
            "y": {"field": "v", "type": "quantitative",
              "axis": {"orient": "right", "values": [10,20,30,40,50,60,70], "format": "d", "tickSize": 5, "labelPadding": 3, "title": null}},
            "text": {"field": "v", "type": "quantitative", "format": ".2f"}
          }
        }
      ]
    }
  ],
  "config": {
    "view": {"stroke": "#dcdcdc", "strokeWidth": 1},
    "axis": {"labelColor": "#f0f0f0", "labelFont": "Liberation Sans", "labelFontSize": 11, "domainColor": "#dcdcdc", "tickColor": "#dcdcdc", "grid": false},
    "text": {"font": "Liberation Sans"}
  }
}
